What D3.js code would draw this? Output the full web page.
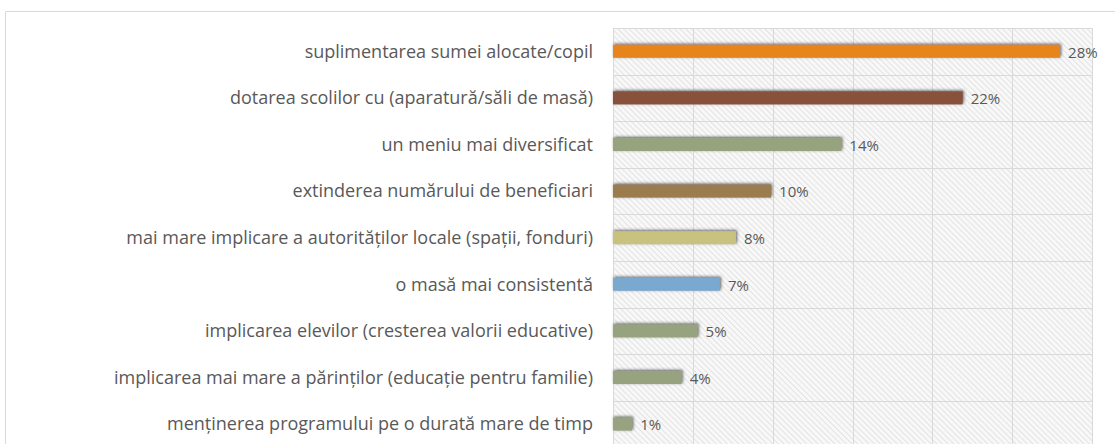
<!DOCTYPE html>
<html>
<head>
<meta charset="utf-8">
<script src="https://cdn.jsdelivr.net/npm/d3@7"></script>
<style>
  html, body { margin: 0; padding: 0; background: #fff; }
  svg { display: block; }
  .cat { font-family: "Open Sans", sans-serif; font-size: 18px; fill: #595959; }
  .val { font-family: "Open Sans", sans-serif; font-size: 15px; fill: #595959; }
</style>
</head>
<body>
<div id="chart"></div>
<script>
// categories, top to bottom
const categories = [
  'suplimentarea sumei alocate/copil',
  'dotarea scolilor cu (aparatură/săli de masă)',
  'un meniu mai diversificat',
  'extinderea numărului de beneficiari',
  'mai mare implicare a autorităților locale (spații, fonduri)',
  'o masă mai consistentă',
  'implicarea elevilor (cresterea valorii educative)',
  'implicarea mai mare a părinților (educație pentru familie)',
  'menținerea programului pe o durată mare de timp'
]
// shares (labels are rounded)
const values = [0.28, 0.219, 0.143, 0.099, 0.077, 0.067, 0.053, 0.043, 0.012]
const colors = ['#e8841a', '#87513a', '#97a37f', '#9a7b4f', '#c9c27e', '#7aa8cf', '#97a37f', '#97a37f', '#97a37f']
const xTicks = [0, 0.05, 0.10, 0.15, 0.20, 0.25, 0.30]

const width = 1115, height = 444
const margin = { top: 28, left: 613, right: 23 }
const band = 46.6

const svg = d3.select('#chart').append('svg')
    .attr('width', width)
    .attr('height', height)

const defs = svg.append('defs')

// light diagonal hatching behind the plot
const pat = defs.append('pattern')
    .attr('id', 'hatch')
    .attr('patternUnits', 'userSpaceOnUse')
    .attr('width', 4)
    .attr('height', 4)
    .attr('patternTransform', 'rotate(-45)')
pat.append('rect').attr('width', 4).attr('height', 4).attr('fill', '#f8f8f8')
pat.append('line')
    .attr('x1', 0).attr('y1', 0).attr('x2', 0).attr('y2', 4)
    .attr('stroke', '#d8d8d8').attr('stroke-width', 1.3)

const shadow = defs.append('filter')
    .attr('id', 'shadow')
    .attr('x', '-10%').attr('y', '-80%')
    .attr('width', '130%').attr('height', '260%')
shadow.append('feDropShadow')
    .attr('dx', 1).attr('dy', -1)
    .attr('stdDeviation', 1.8)
    .attr('flood-color', '#444')
    .attr('flood-opacity', 0.85)

// outer frame
svg.append('path')
    .attr('d', `M5.5,${height} V11.5 H${width}`)
    .attr('fill', 'none')
    .attr('stroke', '#d9d9d9')

const xScale = d3.scaleLinear()
    .domain([0, 0.30])
    .range([margin.left, width - margin.right])

const yScale = d3.scaleBand()
    .domain(categories)
    .range([margin.top, margin.top + band * categories.length])
    .paddingInner(0)

svg.append('rect')
    .attr('x', xScale(0))
    .attr('y', margin.top)
    .attr('width', xScale(0.30) - xScale(0))
    .attr('height', height - margin.top)
    .attr('fill', 'url(#hatch)')

// grid
const grid = svg.append('g').attr('stroke', '#d9d9d9').attr('stroke-width', 1)
grid.selectAll('line.v').data(xTicks)
  .enter().append('line')
    .attr('x1', d => Math.round(xScale(d)) + 0.5)
    .attr('x2', d => Math.round(xScale(d)) + 0.5)
    .attr('y1', margin.top)
    .attr('y2', height)
grid.selectAll('line.h').data(categories)
  .enter().append('line')
    .attr('x1', xScale(0))
    .attr('x2', xScale(0.30))
    .attr('y1', d => Math.round(yScale(d)) + 0.5)
    .attr('y2', d => Math.round(yScale(d)) + 0.5)

// category labels
svg.append('g').selectAll('text')
    .data(categories)
  .enter().append('text')
    .attr('class', 'cat')
    .attr('x', 593)
    .attr('y', d => yScale(d) + yScale.bandwidth() / 2)
    .attr('dy', '0.35em')
    .attr('text-anchor', 'end')
    .text(d => d)

// bars
const barH = 13
svg.append('g').selectAll('rect')
    .data(values)
  .enter().append('rect')
    .attr('x', xScale(0))
    .attr('y', (d, i) => yScale(categories[i]) + yScale.bandwidth() / 2 - barH / 2)
    .attr('width', d => xScale(d) - xScale(0))
    .attr('height', barH)
    .attr('fill', (d, i) => colors[i])
    .attr('filter', 'url(#shadow)')

// data labels
svg.append('g').selectAll('text')
    .data(values)
  .enter().append('text')
    .attr('class', 'val')
    .attr('x', d => xScale(d) + 8)
    .attr('y', (d, i) => yScale(categories[i]) + yScale.bandwidth() / 2 + 1)
    .attr('dy', '0.35em')
    .text(d => d3.format('.0%')(d))
</script>
</body>
</html>
